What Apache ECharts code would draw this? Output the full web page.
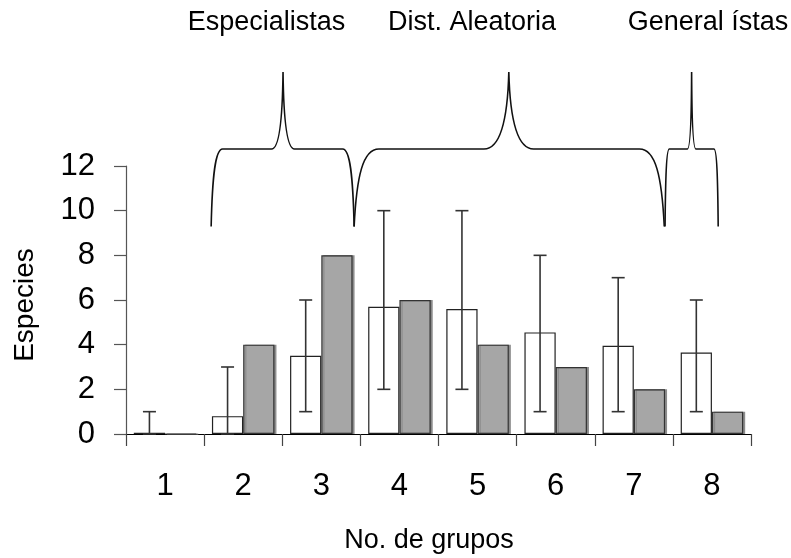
<!DOCTYPE html>
<html>
<head>
<meta charset="utf-8">
<script src="https://cdn.jsdelivr.net/npm/echarts@6/dist/echarts.min.js"></script>
<style>
html,body{margin:0;padding:0;background:#fff;}
#chart{width:791px;height:558px;}
</style>
</head>
<body>
<div id="chart"></div>
<script>
// ---- data ----
const categories = ['1', '2', '3', '4', '5', '6', '7', '8'];
const whiteValues = [0.06, 0.8, 3.5, 5.7, 5.6, 4.55, 3.95, 3.65];
const grayValues = [0, 4, 8, 6, 4, 3, 2, 1];
const errLow = [0, 0, 1, 2, 2, 1, 1, 1];
const errHigh = [1, 3, 6, 10, 10, 8, 7, 6];
const yTickValues = [0, 2, 4, 6, 8, 10, 12];
const braceLabels = ['Especialistas', 'Dist. Aleatoria', 'General ístas'];
const braceStart = [1.09, 2.92, 6.90];
const bracePeak = [2.01, 4.90, 7.24];
const braceEnd = [2.92, 6.89, 7.58];
const yAxisTitle = 'Especies';
const xAxisTitle = 'No. de grupos';

const FONT = 'Liberation Sans, Arial, Helvetica, sans-serif';
const chart = echarts.init(document.getElementById('chart'), null, {renderer: 'canvas'});

const errData = categories.map((c, i) => [i, errLow[i], errHigh[i]]);
const braceData = braceStart.map((s, i) => [s, bracePeak[i], braceEnd[i]]);

const Y_BOT = 1.35, Y_MID = 9.1, Y_TOP = 16.8;

const option = {
  animation: false,
  backgroundColor: '#fff',
  grid: [
    {left: 126, right: 40, top: 166, bottom: 124},
    {left: 126, right: 40, top: 60, height: 180}
  ],
  xAxis: [
    {
      type: 'category', data: categories, gridIndex: 0,
      axisLine: {show: true, lineStyle: {color: '#000', width: 1.2}},
      axisTick: {show: true, length: 12, lineStyle: {color: '#444', width: 1.2}},
      axisLabel: {color: '#000', fontSize: 31, fontFamily: FONT, margin: 37},
      splitLine: {show: false}
    },
    {type: 'value', gridIndex: 1, min: 0, max: 8, show: false}
  ],
  yAxis: [
    {
      type: 'value', gridIndex: 0, min: yTickValues[0], max: yTickValues[yTickValues.length - 1], interval: 2,
      axisLine: {show: true, lineStyle: {color: '#555', width: 1.2}},
      axisTick: {show: true, inside: false, length: 12, lineStyle: {color: '#555', width: 1.2}},
      axisLabel: {color: '#000', fontSize: 31, fontFamily: FONT, margin: 31},
      splitLine: {show: false}
    },
    {type: 'value', gridIndex: 1, min: 0, max: 18, show: false}
  ],
  series: [
    {
      type: 'bar', data: whiteValues, xAxisIndex: 0, yAxisIndex: 0,
      barGap: '0%', barCategoryGap: '20%',
      itemStyle: {color: '#ffffff', borderColor: '#222', borderWidth: 1.2},
      z: 2
    },
    {
      type: 'bar', data: grayValues, xAxisIndex: 0, yAxisIndex: 0,
      barGap: '0%', barCategoryGap: '20%',
      itemStyle: {color: '#a6a6a6', borderColor: '#333', borderWidth: 1.2,
        shadowColor: '#8c8c8c', shadowOffsetX: 2, shadowBlur: 0},
      z: 2
    },
    {
      type: 'custom', xAxisIndex: 0, yAxisIndex: 0, data: errData,
      encode: {x: 0, y: [1, 2]}, z: 5,
      renderItem: function (params, api) {
        const idx = api.value(0);
        const lo = api.coord([idx, api.value(1)]);
        const hi = api.coord([idx, api.value(2)]);
        const off = api.size([1, 0])[0] * 0.2;
        const x = lo[0] - off;
        const hw = 6.5;
        const st = {stroke: '#333', lineWidth: 1.6};
        return {
          type: 'group',
          children: [
            {type: 'line', shape: {x1: x, y1: lo[1], x2: x, y2: hi[1]}, style: st},
            {type: 'line', shape: {x1: x - hw, y1: hi[1], x2: x + hw, y2: hi[1]}, style: st},
            {type: 'line', shape: {x1: x - hw, y1: lo[1], x2: x + hw, y2: lo[1]}, style: st}
          ]
        };
      }
    },
    {
      type: 'custom', xAxisIndex: 1, yAxisIndex: 1, data: braceData,
      encode: {x: [0, 1, 2]}, z: 5, clip: false,
      renderItem: function (params, api) {
        const b0 = api.coord([api.value(0), Y_BOT]);
        const t = api.coord([api.value(1), Y_TOP]);
        const b1 = api.coord([api.value(2), Y_BOT]);
        const m = api.coord([api.value(0), Y_MID]);
        const X0 = b0[0], XP = t[0], X1 = b1[0];
        const YB = b0[1], YT = t[1], YM = m[1];
        const w = 0.08 * (X1 - X0);
        const dB = YB - YM, dT = YM - YT;
        const p = [
          'M', X0, YB,
          'C', X0 + 0.1 * w, YM + 0.35 * dB, X0 + 0.35 * w, YM, X0 + w, YM,
          'L', XP - w, YM,
          'C', XP - 0.35 * w, YM, XP - 0.05 * w, YM - 0.35 * dT, XP, YT,
          'C', XP + 0.05 * w, YM - 0.35 * dT, XP + 0.35 * w, YM, XP + w, YM,
          'L', X1 - w, YM,
          'C', X1 - 0.35 * w, YM, X1 - 0.1 * w, YM + 0.35 * dB, X1, YB
        ].join(' ');
        return {
          type: 'path',
          shape: {pathData: p},
          style: {stroke: '#111', fill: null, lineWidth: 1.6}
        };
      }
    }
  ],
  graphic: [
    {type: 'text', x: 266.5, y: 23, style: {text: braceLabels[0], font: '27px ' + FONT, fill: '#000', align: 'center', verticalAlign: 'middle'}},
    {type: 'text', x: 472, y: 23, style: {text: braceLabels[1], font: '27px ' + FONT, fill: '#000', align: 'center', verticalAlign: 'middle'}},
    {type: 'text', x: 708, y: 23, style: {text: braceLabels[2], font: '27px ' + FONT, fill: '#000', align: 'center', verticalAlign: 'middle'}},
    {type: 'text', x: 25, y: 305, rotation: Math.PI / 2, style: {text: yAxisTitle, font: '28px ' + FONT, fill: '#000', align: 'center', verticalAlign: 'middle'}},
    {type: 'text', x: 429, y: 541, style: {text: xAxisTitle, font: '27px ' + FONT, fill: '#000', align: 'center', verticalAlign: 'middle'}}
  ]
};
chart.setOption(option);
</script>
</body>
</html>
